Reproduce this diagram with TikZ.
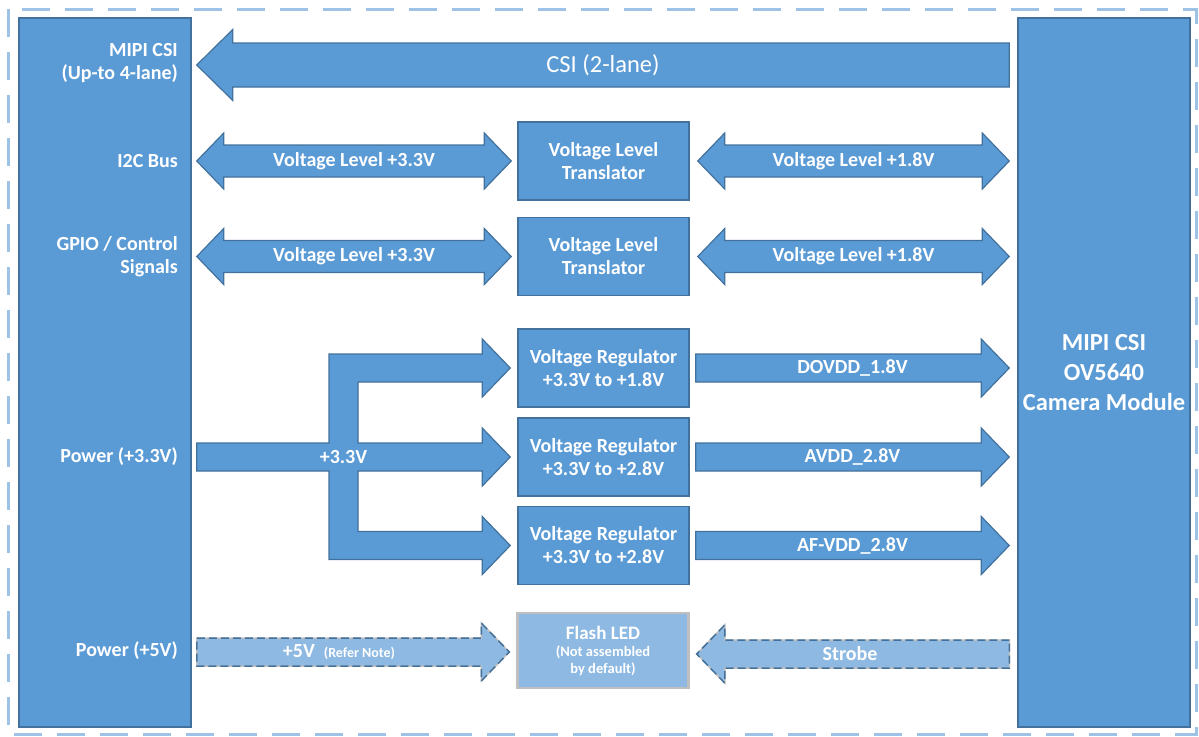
\documentclass[tikz,border=0pt]{standalone}
\usepackage{fontspec}
\setmainfont{Carlito}
\usetikzlibrary{calc}

\definecolor{boxblue}{HTML}{5B9BD5}
\definecolor{edgeblue}{HTML}{41719C}
\definecolor{paleblue}{HTML}{8DB9E2}
\definecolor{frameblue}{HTML}{9DC3E6}
\definecolor{edgegray}{HTML}{BFBFBF}

\tikzset{
  ashaft/.store in=\ashaft, ahead/.store in=\ahead, alen/.store in=\alen,
  ashaft=14pt, ahead=29pt, alen=28pt,
  block/.style={draw=edgeblue, fill=boxblue, line width=1.5pt, inner sep=0pt},
  barrow/.style={draw=edgeblue, fill=boxblue, line width=1.2pt, line join=miter},
  lightarrow/.style={draw=edgegray, fill=paleblue, line width=1.5pt,
    postaction={draw=edgeblue, line width=1.5pt, dash pattern=on 8pt off 4pt}},
  lbl/.style={text=white, font=\bfseries\fontsize{20}{23}\selectfont, align=center},
  sidelbl/.style={lbl, anchor=east, align=right, inner sep=0pt}
}

% horizontal block arrow, tail #2, tip #3
\newcommand{\harrow}[3][]{%
  \path[barrow,#1] let \p1=#2, \p2=#3, \n1={ifthenelse(\x2>\x1,-1,1)} in
    (\x1,\y1+\ashaft) -- (\x2+\n1*\alen,\y1+\ashaft) -- (\x2+\n1*\alen,\y1+\ahead)
    -- (\x2,\y1) -- (\x2+\n1*\alen,\y1-\ahead) -- (\x2+\n1*\alen,\y1-\ashaft)
    -- (\x1,\y1-\ashaft) -- cycle;}
% double headed block arrow, left tip #2, right tip #3
\newcommand{\dharrow}[3][]{%
  \path[barrow,#1] let \p1=#2, \p2=#3 in
    (\x1,\y1) -- (\x1+\alen,\y1+\ahead) -- (\x1+\alen,\y1+\ashaft)
    -- (\x2-\alen,\y1+\ashaft) -- (\x2-\alen,\y1+\ahead) -- (\x2,\y1)
    -- (\x2-\alen,\y1-\ahead) -- (\x2-\alen,\y1-\ashaft)
    -- (\x1+\alen,\y1-\ashaft) -- (\x1+\alen,\y1-\ahead) -- cycle;}

\begin{document}
\begin{tikzpicture}[x=1pt,y=-1pt]
\useasboundingbox (0,0) rectangle (1199,736);
\draw[frameblue, line width=3pt, dash pattern=on 28pt off 15pt] (8,9) rectangle (1196,734);

% the two end blocks
\node[block, minimum width=172pt, minimum height=709pt] (soc) at (105,372.5) {};
\node[block, minimum width=172pt, minimum height=709pt] (cam) at (1104,372.5) {};
\node[lbl, font=\bfseries\fontsize{24.5}{30}\selectfont] at (cam) {MIPI CSI\\OV5640\\Camera Module};

\node[sidelbl] (l1) at (178,63) {MIPI CSI\\(Up-to 4-lane)};
\node[sidelbl] (l2) at (178,161) {I2C Bus};
\node[sidelbl] (l3) at (178,257) {GPIO / Control\\Signals};
\node[sidelbl] (l4) at (178,457) {Power (+3.3V)};
\node[sidelbl] (l5) at (178,651) {Power (+5V)};

% middle boxes
\tikzset{midbox/.style={block, lbl, minimum width=171pt, minimum height=78pt}}
\node[midbox] (vlt1) at (603.5,161) {Voltage Level\\Translator};
\node[midbox] (vlt2) at (603.5,256.5) {Voltage Level\\Translator};
\node[midbox] (reg1) at (603.5,368) {Voltage Regulator\\+3.3V to +1.8V};
\node[midbox] (reg2) at (603.5,457) {Voltage Regulator\\+3.3V to +2.8V};
\node[midbox] (reg3) at (603.5,545.5) {Voltage Regulator\\+3.3V to +2.8V};
\node[midbox, fill=paleblue, draw=edgegray, line width=2.5pt, minimum height=75pt,
  font=\bfseries\fontsize{14.5}{17}\selectfont] (led) at (603,650.5)
  {{\fontsize{19}{23}\selectfont Flash LED}\\(Not assembled\\by default)};

% CSI
\coordinate (csiR) at ([xshift=-8pt]cam.west |- 0,65);
\coordinate (csiL) at ([xshift=5pt]soc.east |- 0,65);
\harrow[ashaft=22pt, ahead=35.5pt, alen=36pt]{(csiR)}{(csiL)}
\node[text=white, font=\fontsize{24.5}{28}\selectfont] at ($(csiL)!0.5!(csiR)$) {CSI (2-lane)};

% level translators
\foreach \v in {vlt1,vlt2}{
  \dharrow[ashaft=16pt, ahead=28pt, alen=27pt]{([xshift=5pt]soc.east |- \v)}{([xshift=-6pt]\v.west)}
  \node[lbl] at ($([xshift=5pt]soc.east |- \v)!0.5!([xshift=-6pt]\v.west)$) {Voltage Level +3.3V};
  \dharrow[ashaft=16pt, ahead=28pt, alen=27pt]{([xshift=8pt]\v.east)}{([xshift=-8pt]cam.west |- \v)}
  \node[lbl] at ($([xshift=8pt]\v.east)!0.5!([xshift=-8pt]cam.west |- \v)$) {Voltage Level +1.8V};
}

% +3.3V branch
\path[barrow] let \p1=([xshift=5pt]soc.east |- reg2), \p2=([xshift=-7pt]reg1.west),
  \p3=([xshift=-7pt]reg2.west), \p4=([xshift=-7pt]reg3.west) in
  (\x1,\y1+14pt) -- (329,\y1+14pt) |- (\x2-28pt,\y2+14pt) -- (\x2-28pt,\y2+29pt) -- (\p2)
  -- (\x2-28pt,\y2-29pt) -- (\x2-28pt,\y2-14pt) -- (358,\y2-14pt) |- (\x3-28pt,\y3+14pt)
  -- (\x3-28pt,\y3+29pt) -- (\p3) -- (\x3-28pt,\y3-29pt) -- (\x3-28pt,\y3-14pt)
  -- (358,\y3-14pt) |- (\x4-28pt,\y4+14pt) -- (\x4-28pt,\y4+29pt) -- (\p4)
  -- (\x4-28pt,\y4-29pt) -- (\x4-28pt,\y4-14pt) -- (329,\y4-14pt) |- (\x1,\y1-14pt) -- cycle;
\node[lbl] at (343.5,457) {+3.3V};

% regulator outputs
\foreach \r/\t in {reg1/DOVDD\_1.8V, reg2/AVDD\_2.8V, reg3/AF-VDD\_2.8V}{
  \harrow{([xshift=6pt]\r.east)}{([xshift=-8pt]cam.west |- \r)}
  \node[lbl] at ($([xshift=6pt]\r.east)!0.5!([xshift=-8pt]cam.west |- \r)$) {\t};
}

% flash
\harrow[lightarrow]{([xshift=5pt]soc.east |- 0,652)}{([xshift=-7pt]led.west |- 0,652)}
\node[lbl] at (339,652) {+5V\ \ {\fontsize{14}{17}\selectfont(Refer Note)}};
\harrow[lightarrow]{([xshift=-8pt]cam.west |- 0,654)}{([xshift=7pt]led.east |- 0,654)}
\node[lbl] at (850,654) {Strobe};
\end{tikzpicture}
\end{document}
